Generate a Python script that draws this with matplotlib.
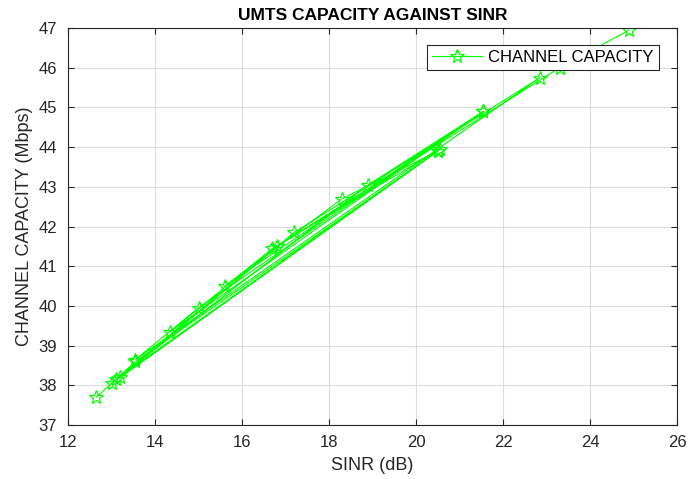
import matplotlib.pyplot as plt

plt.rcParams['font.family'] = ['Liberation Sans', 'DejaVu Sans']

# SINR (dB) and channel capacity (Mbps), in the order they were plotted
sinr = [12.65, 13.55, 20.5, 13.1, 18.9, 21.55, 14.35, 16.7, 20.55, 13.2, 17.2,
        22.85, 13.55, 15.0, 21.55, 15.6, 18.3, 20.5, 13.0, 16.8, 23.3, 24.9]
capacity = [37.7, 38.6, 43.9, 38.15, 43.05, 44.9, 39.35, 41.45, 43.95, 38.2, 41.85,
            45.75, 38.65, 39.95, 44.9, 40.5, 42.7, 43.9, 38.05, 41.5, 46.0, 46.95]

fig = plt.figure(figsize=(6.89, 4.79), dpi=100)
ax = fig.add_axes([0.0987, 0.1127, 0.8839, 0.8288])

ax.plot(sinr, capacity, '-', color=(0, 1, 0), linewidth=0.8,
        marker='*', markersize=10, markerfacecolor='none', markeredgewidth=0.9,
        label='CHANNEL CAPACITY')

ax.set_xlim(12, 26)
ax.set_ylim(37, 47)
ax.set_xticks(range(12, 27, 2))
ax.set_yticks(range(37, 48, 1))
ax.grid(True, color='#dcdcdc', linewidth=0.8)
ax.set_axisbelow(True)
ax.tick_params(direction='in', top=True, right=True, length=4,
               labelsize=12, colors='#262626')
ax.tick_params(axis='x', pad=7)
ax.tick_params(axis='y', pad=8)
for s in ax.spines.values():
    s.set_color('#262626')
    s.set_linewidth(0.8)

ax.set_xlabel('SINR (dB)', fontsize=13, color='#262626', labelpad=5)
ax.set_ylabel('CHANNEL CAPACITY (Mbps)', fontsize=13, color='#262626', labelpad=4)
ax.set_title('UMTS CAPACITY AGAINST SINR', fontsize=12.5, fontweight='bold', pad=6)

leg = ax.legend(loc='upper right', bbox_to_anchor=(0.970, 0.958), fontsize=12,
                fancybox=False, framealpha=1, edgecolor='#262626',
                handlelength=3.0, handletextpad=0.35, borderpad=0.3,
                borderaxespad=0)
leg.get_frame().set_linewidth(0.8)

fig.savefig('out.png', dpi=100)
